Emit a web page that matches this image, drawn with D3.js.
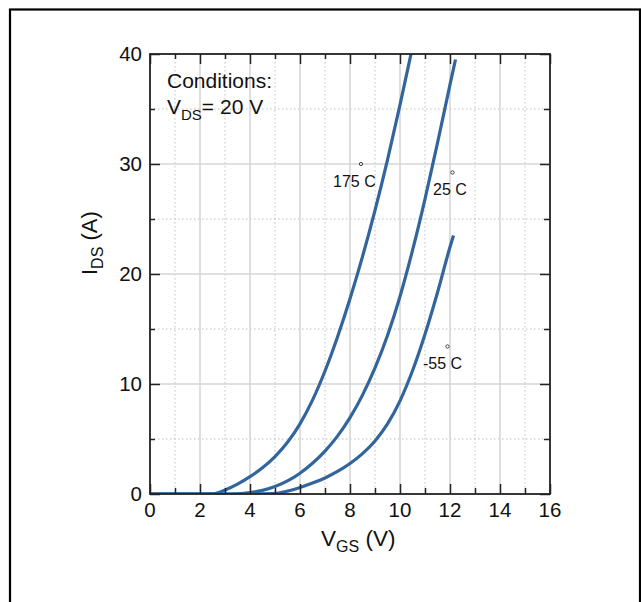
<!DOCTYPE html>
<html>
<head>
<meta charset="utf-8">
<script src="https://cdn.jsdelivr.net/npm/d3@7"></script>
<style>
  html, body { margin: 0; padding: 0; background: #fff; }
  svg { display: block; }
  text { font-family: Arial, "Liberation Sans", Helvetica, sans-serif; fill: #111; }
</style>
</head>
<body>
<svg id="chart" width="641" height="602"></svg>
<script>
// ---- data ----
const vgs175 = [0, 0.5, 1, 1.5, 2, 2.5, 2.75, 3, 3.5, 4, 4.5, 5, 5.5, 6, 6.5, 7, 7.5, 8, 8.5, 9, 9.5, 10, 10.45];
const ids175 = [0, 0, 0, 0, 0, 0.02, 0.14, 0.36, 0.9, 1.58, 2.38, 3.4, 4.7, 6.38, 8.53, 11.18, 14.28, 17.75, 21.58, 25.78, 30.38, 35.38, 40.1];

const vgs25 = [0, 0.5, 1, 1.5, 2, 2.5, 3, 3.5, 4, 4.5, 5, 5.5, 6, 6.5, 7, 7.5, 8, 8.5, 9, 9.5, 10, 10.5, 11, 11.5, 12, 12.22];
const ids25 = [0, 0, 0, 0, 0, 0, 0, 0.02, 0.12, 0.33, 0.68, 1.19, 1.89, 2.79, 3.9, 5.26, 6.94, 8.99, 11.46, 14.41, 17.96, 22.14, 26.81, 31.91, 37.21, 39.5];

const vgsM55 = [0, 0.5, 1, 1.5, 2, 2.5, 3, 3.5, 4, 4.5, 5, 5.5, 6, 6.5, 7, 7.5, 8, 8.5, 9, 9.5, 10, 10.5, 11, 11.5, 12, 12.14];
const idsM55 = [0, 0, 0, 0, 0, 0, 0, 0, 0, 0.01, 0.05, 0.26, 0.59, 0.99, 1.46, 2.05, 2.77, 3.67, 4.82, 6.37, 8.47, 11.2, 14.52, 18.32, 22.45, 23.5];

const seriesNames = ["175 C", "25 C", "-55 C"];
const xTickLabels = [0, 2, 4, 6, 8, 10, 12, 14, 16];
const yTickLabels = [0, 10, 20, 30, 40];
const xMinorTicks = [1, 3, 5, 7, 9, 11, 13, 15];
const yMinorTicks = [5, 15, 25, 35];

// ---- layout ----
const svg = d3.select("#chart");
const L = 150, R = 550, T = 54, B = 494;
const x = d3.scaleLinear().domain([0, 16]).range([L, R]);
const y = d3.scaleLinear().domain([0, 40]).range([B, T]);

// outer frame
svg.append("rect").attr("x", 10).attr("y", 9.5).attr("width", 630).attr("height", 610)
  .attr("fill", "none").attr("stroke", "#000").attr("stroke-width", 2.2);

// grid
const grid = svg.append("g");
grid.selectAll(".vminor").data(xMinorTicks).join("line")
  .attr("x1", d => x(d)).attr("x2", d => x(d)).attr("y1", T).attr("y2", B)
  .attr("stroke", "#bdbdbd").attr("stroke-width", 1).attr("stroke-dasharray", "1.5,2.5");
grid.selectAll(".hminor").data(yMinorTicks).join("line")
  .attr("y1", d => y(d)).attr("y2", d => y(d)).attr("x1", L).attr("x2", R)
  .attr("stroke", "#bdbdbd").attr("stroke-width", 1).attr("stroke-dasharray", "1.5,2.5");
grid.selectAll(".vmajor").data(xTickLabels.slice(1, -1)).join("line")
  .attr("x1", d => x(d)).attr("x2", d => x(d)).attr("y1", T).attr("y2", B)
  .attr("stroke", "#d6d6d6").attr("stroke-width", 1.6);
grid.selectAll(".hmajor").data(yTickLabels.slice(1, -1)).join("line")
  .attr("y1", d => y(d)).attr("y2", d => y(d)).attr("x1", L).attr("x2", R)
  .attr("stroke", "#d6d6d6").attr("stroke-width", 1.6);

// curves
svg.append("clipPath").attr("id", "clip").append("rect")
  .attr("x", L).attr("y", T).attr("width", R - L).attr("height", B - T);
const line = d3.line().x(d => x(d[0])).y(d => y(d[1])).curve(d3.curveMonotoneX);
const series = [
  d3.zip(vgs175, ids175),
  d3.zip(vgs25, ids25),
  d3.zip(vgsM55, idsM55)
];
svg.append("g").attr("clip-path", "url(#clip)")
  .selectAll("path").data(series).join("path")
  .attr("d", line).attr("fill", "none")
  .attr("stroke", "#31659c").attr("stroke-width", 3.2)
  .attr("stroke-linejoin", "round");

// axes (ticks inward)
const axStroke = "#222";
function styleAxis(g) {
  g.select(".domain").remove();
  g.selectAll(".tick line").attr("stroke", axStroke).attr("stroke-width", 1.5);
  g.selectAll(".tick text").remove();
}
svg.append("g").attr("transform", `translate(0,${B})`)
  .call(d3.axisBottom(x).tickValues(xTickLabels).tickSizeInner(-10).tickSizeOuter(0)).call(styleAxis);
svg.append("g").attr("transform", `translate(0,${B})`)
  .call(d3.axisBottom(x).tickValues(xMinorTicks).tickSizeInner(-6).tickSizeOuter(0)).call(styleAxis);
svg.append("g").attr("transform", `translate(0,${T})`)
  .call(d3.axisTop(x).tickValues(xTickLabels).tickSizeInner(-10).tickSizeOuter(0)).call(styleAxis);
svg.append("g").attr("transform", `translate(0,${T})`)
  .call(d3.axisTop(x).tickValues(xMinorTicks).tickSizeInner(-5).tickSizeOuter(0)).call(styleAxis);
svg.append("g").attr("transform", `translate(${L},0)`)
  .call(d3.axisLeft(y).tickValues(yTickLabels).tickSizeInner(-10).tickSizeOuter(0)).call(styleAxis);
svg.append("g").attr("transform", `translate(${L},0)`)
  .call(d3.axisLeft(y).tickValues(yMinorTicks).tickSizeInner(-5).tickSizeOuter(0)).call(styleAxis);
svg.append("g").attr("transform", `translate(${R},0)`)
  .call(d3.axisRight(y).tickValues(yTickLabels).tickSizeInner(-10).tickSizeOuter(0)).call(styleAxis);
svg.append("g").attr("transform", `translate(${R},0)`)
  .call(d3.axisRight(y).tickValues(yMinorTicks).tickSizeInner(-6).tickSizeOuter(0)).call(styleAxis);

// frame
svg.append("rect").attr("x", L).attr("y", T).attr("width", R - L).attr("height", B - T)
  .attr("fill", "none").attr("stroke", axStroke).attr("stroke-width", 1.8);

// tick labels
svg.append("g").selectAll("text").data(xTickLabels).join("text")
  .attr("x", d => x(d)).attr("y", B + 23).attr("text-anchor", "middle")
  .attr("font-size", 20.5).text(d => d);
svg.append("g").selectAll("text").data(yTickLabels).join("text")
  .attr("x", L - 8).attr("y", d => y(d)).attr("dy", "0.35em").attr("text-anchor", "end")
  .attr("font-size", 20.5).text(d => d);

// axis titles
const xt = svg.append("text").attr("x", 321).attr("y", 546).attr("font-size", 22.5);
xt.append("tspan").text("V");
xt.append("tspan").attr("font-size", 16).attr("dy", 6).text("GS");
xt.append("tspan").attr("dy", -6).text(" (V)");

const yt = svg.append("text").attr("transform", "translate(97,275) rotate(-90)").attr("font-size", 22);
yt.append("tspan").text("I");
yt.append("tspan").attr("font-size", 16).attr("dy", 6).text("DS");
yt.append("tspan").attr("dy", -6).text(" (A)");

// conditions
svg.append("text").attr("x", 167).attr("y", 88).attr("font-size", 21).text("Conditions:");
const vc = svg.append("text").attr("x", 167).attr("y", 114).attr("font-size", 21);
vc.append("tspan").text("V");
vc.append("tspan").attr("font-size", 15).attr("dy", 6).text("DS");
vc.append("tspan").attr("dy", -6).text("= 20 V");

// curve annotations
const ann = [
  { name: seriesNames[0], tx: 333, ty: 187, cx: 361, cy: 164 },
  { name: seriesNames[1], tx: 433, ty: 195, cx: 452.5, cy: 172.5 },
  { name: seriesNames[2], tx: 423, ty: 369, cx: 447.5, cy: 346.5 }
];
const ag = svg.append("g");
ag.selectAll("text").data(ann).join("text")
  .attr("x", d => d.tx).attr("y", d => d.ty).attr("font-size", 16).text(d => d.name);
ag.selectAll("circle").data(ann).join("circle")
  .attr("cx", d => d.cx).attr("cy", d => d.cy).attr("r", 1.7)
  .attr("fill", "none").attr("stroke", "#222").attr("stroke-width", 0.8);
</script>
</body>
</html>
